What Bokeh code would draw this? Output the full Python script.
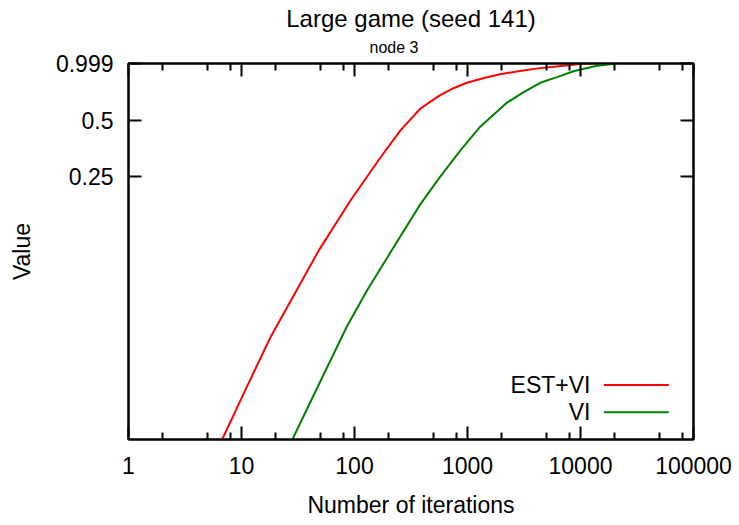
from bokeh.plotting import figure
from bokeh.models import Range1d, FixedTicker, LogAxis, Label, Arrow, Title
from bokeh.embed import file_html
from bokeh.resources import INLINE

# ---------------- data ----------------
TITLE = "Large game (seed 141)"
SUBTITLE = "node 3"
X_LABEL = "Number of iterations"
Y_LABEL = "Value"

x_ticks = [1, 10, 100, 1000, 10000, 100000]
x_tick_labels = ["1", "10", "100", "1000", "10000", "100000"]
x_minor_ticks = [2, 5, 8, 20, 50, 80, 200, 500, 800, 2000, 5000, 8000,
                 20000, 50000, 80000]
y_ticks = [0.25, 0.5, 0.999]
y_tick_labels = ["0.25", "0.5", "0.999"]

series_names = ["EST+VI", "VI"]
series_colors = ["#ff0000", "#008000"]

est_vi_iterations = [6.74, 10.8, 18.0, 31.0, 48.2, 91.8, 169, 254, 320, 382,
                     470, 574, 750, 988, 1400, 1945, 3000, 4395, 8605, 10000,
                     13000]
est_vi_values = [0.0100, 0.0183, 0.0349, 0.0628, 0.101, 0.186, 0.315, 0.439,
                 0.512, 0.574, 0.626, 0.678, 0.738, 0.789, 0.837, 0.876,
                 0.915, 0.944, 0.983, 0.995, 0.999]

vi_iterations = [28.2, 49.9, 85.9, 129, 215, 382, 574, 862, 1295, 2230, 3200,
                 4395, 6200, 8650, 13930, 17000, 20230]
vi_values = [0.0100, 0.0204, 0.0400, 0.0620, 0.102, 0.178, 0.250, 0.344,
             0.461, 0.618, 0.708, 0.789, 0.845, 0.908, 0.971, 0.985, 0.999]

FONT = "Liberation Sans"

# ---------------- figure ----------------
p = figure(width=739, height=525, x_axis_type="log", y_axis_type="log",
           x_range=Range1d(1, 100000), y_range=Range1d(0.01, 0.999),
           output_backend="svg", toolbar_location=None,
           min_border_left=128, min_border_right=46,
           min_border_top=63, min_border_bottom=86)
p.xgrid.visible = False
p.ygrid.visible = False
p.outline_line_color = "black"
p.outline_line_width = 2
p.background_fill_color = "white"
p.border_fill_color = "white"

xt = FixedTicker(ticks=x_ticks, minor_ticks=x_minor_ticks)
yt = FixedTicker(ticks=y_ticks)
x_over = {t: l for t, l in zip(x_ticks, x_tick_labels)}
y_over = {t: l for t, l in zip(y_ticks, y_tick_labels)}


def style_axis(ax, show_labels):
    ax.axis_line_color = "black"
    ax.axis_line_width = 2
    ax.major_tick_in = 13
    ax.major_tick_out = 0
    ax.minor_tick_in = 7
    ax.minor_tick_out = 0
    ax.major_tick_line_color = "black"
    ax.major_tick_line_width = 2
    ax.minor_tick_line_color = "black"
    ax.minor_tick_line_width = 2
    if show_labels:
        ax.major_label_text_font = FONT
        ax.major_label_text_font_size = "23px"
        ax.major_label_text_color = "black"
        ax.major_label_text_line_height = 1.0
    else:
        ax.major_label_text_font_size = "1px"
        ax.major_label_text_alpha = 0
        ax.major_label_standoff = 0


xa = p.xaxis[0]
xa.ticker = xt
xa.major_label_overrides = x_over
style_axis(xa, True)
xa.major_label_standoff = 17
xa.axis_label = X_LABEL
xa.axis_label_text_font = FONT
xa.axis_label_text_font_size = "23px"
xa.axis_label_text_font_style = "normal"
xa.axis_label_text_color = "black"
xa.axis_label_text_line_height = 1.0
xa.axis_label_standoff = 15

ya = p.yaxis[0]
ya.ticker = yt
ya.major_label_overrides = y_over
style_axis(ya, True)
ya.major_label_standoff = 15
ya.axis_label = Y_LABEL
ya.axis_label_text_font = FONT
ya.axis_label_text_font_size = "23px"
ya.axis_label_text_font_style = "normal"
ya.axis_label_text_color = "black"
ya.axis_label_text_line_height = 1.0
ya.axis_label_standoff = 18

top_ax = LogAxis(ticker=xt)
style_axis(top_ax, False)
p.add_layout(top_ax, "above")
right_ax = LogAxis(ticker=yt)
style_axis(right_ax, False)
p.add_layout(right_ax, "right")

# ---------------- titles ----------------
p.add_layout(Title(text=SUBTITLE, align="left", offset=241,
                   text_font=FONT, text_font_size="16px",
                   text_font_style="normal", text_color="black",
                   standoff=16), "above")
p.add_layout(Title(text=TITLE, align="center",
                   text_font=FONT, text_font_size="24px",
                   text_font_style="normal", text_color="black",
                   standoff=-7), "above")

# ---------------- curves ----------------
p.line(est_vi_iterations, est_vi_values, line_color=series_colors[0],
       line_width=2, line_join="round")
p.line(vi_iterations, vi_values, line_color=series_colors[1],
       line_width=2, line_join="round")

# ---------------- legend ----------------
leg_y = [54.6, 27.3]
for name, col, ly in zip(series_names, series_colors, leg_y):
    p.add_layout(Label(x=462, y=ly, x_units="screen", y_units="screen",
                       text=name, text_align="right", text_baseline="middle",
                       text_font=FONT, text_font_size="23px", text_color="black"))
    p.add_layout(Arrow(x_start=475.3, y_start=ly, x_end=540.3, y_end=ly,
                       start_units="screen", end_units="screen",
                       start=None, end=None, line_color=col, line_width=2))

open("out.html", "w").write(file_html(p, INLINE))
